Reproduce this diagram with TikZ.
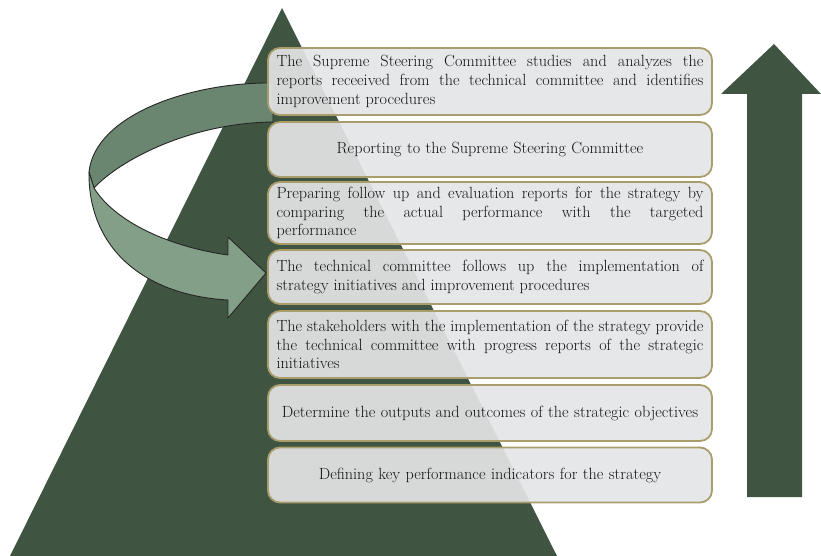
\documentclass[tikz,border=0pt]{standalone}
\usepackage{fontspec}
\usepackage{tikz}
\usetikzlibrary{positioning}
\definecolor{pine}{HTML}{3F5441}
\definecolor{ribbonback}{HTML}{6A8570}
\definecolor{ribbonfront}{HTML}{839F88}
\definecolor{boxfill}{HTML}{E4E5E7}
\definecolor{boxedge}{HTML}{A99D6B}
\definecolor{ink}{HTML}{141414}
\hyphenpenalty=10000
\exhyphenpenalty=10000

\begin{document}
\begin{tikzpicture}[x=1pt, y=-1pt]
\tikzstyle{stage}=[rectangle, rounded corners=12pt, draw=boxedge, line width=1.8pt, fill=boxfill, fill opacity=0.92, text opacity=1, text=ink, minimum width=444pt, text width=427pt, inner sep=0pt, align=center, font=\fontsize{16.2}{18.6}\selectfont]
\tikzstyle{stagejust}=[stage, align=justify, execute at begin node={\spaceskip=0.3em plus 1em minus 0.12em\tolerance=10000\relax}]
\tikzstyle{ribbon}=[draw=black!85, line width=0.9pt, line join=round]
\useasboundingbox (0,0) rectangle (821,556);
% background shapes
\fill[pine] (282,8) -- (557,556) -- (10,556) -- cycle;
\fill[pine] (774,44) -- (821,94) -- (802,94) -- (802,497) -- (747,497) -- (747,94) -- (721,94) -- cycle;
% feedback arrow
\draw[ribbon, fill=ribbonback] (273,83) .. controls (190,82) and (95,115) .. (89,172) -- (94,188) .. controls (120,160) and (190,123) .. (273,122) -- cycle;
\draw[ribbon, fill=ribbonfront] (89,172) .. controls (88,245) and (140,295) .. (228,300) -- (228,318) -- (266,273) -- (228,237) -- (228,255) .. controls (170,247) and (115,222) .. (94,188) -- cycle;
% steps
\node[stagejust, minimum height=67pt] (s1) at (490,81.5) {The Supreme Steering Committee studies and analyzes the\linebreak reports receeived from the technical committee and identifies\linebreak improvement procedures};
\node[stage, minimum height=55pt] (s2) at (490,149.5) {Reporting to the Supreme Steering Committee};
\node[stagejust, minimum height=62pt] (s3) at (490,213) {Preparing follow up and evaluation reports for the strategy by\linebreak comparing the actual performance with the targeted\linebreak performance};
\node[stagejust, minimum height=54pt] (s4) at (490,277) {The technical committee follows up the implementation of\linebreak strategy initiatives and improvement procedures};
\node[stagejust, minimum height=67pt] (s5) at (490,344.5) {The stakeholders with the implementation of the strategy provide\linebreak the technical committee with progress reports of the strategic\linebreak initiatives};
\node[stage, minimum height=56pt] (s6) at (490,413) {Determine the outputs and outcomes of the strategic objectives};
\node[stage, minimum height=55pt] (s7) at (490,475) {Defining key performance indicators for the strategy};
\end{tikzpicture}
\end{document}
